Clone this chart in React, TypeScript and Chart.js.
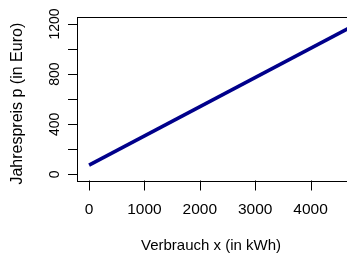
import React, { useEffect, useRef } from "react";
import { Chart, registerables } from "chart.js";

Chart.register(...registerables);

// Data
const consumption = [0, 5000]; // Verbrauch x (kWh)
const price = [74, 1239]; // Jahrespreis p (Euro)

const xTicks = [0, 1000, 2000, 3000, 4000, 5000];
const xTickLabels = ["0", "1000", "2000", "3000", "4000", "5000"];
const yTicks = [0, 200, 400, 600, 800, 1000, 1200];
const yTickLabels = ["0", "", "400", "", "800", "", "1200"];

const xTitle = "Verbrauch x (in kWh)";
const yTitle = "Jahrespreis p (in Euro)";

const FONT = "'Liberation Sans', Arial, Helvetica, sans-serif";
const W = 380;
const H = 253;

const rAxesPlugin = {
  id: "rAxes",
  afterDraw(chart: any) {
    const { ctx, chartArea, scales } = chart;
    const xs = scales.x;
    const ys = scales.y;
    const { left, top, right, bottom } = chartArea;
    ctx.save();
    ctx.strokeStyle = "#000";
    ctx.fillStyle = "#000";
    ctx.lineWidth = 1;
    // box
    ctx.strokeRect(Math.round(left) - 0.5, Math.round(top) - 0.5, Math.round(right - left), Math.round(bottom - top) + 1);
    // y ticks
    ctx.beginPath();
    yTicks.forEach((v) => {
      const py = Math.round(ys.getPixelForValue(v)) + 0.5;
      ctx.moveTo(left - 10, py);
      ctx.lineTo(left, py);
    });
    // x ticks
    xTicks.forEach((v) => {
      const px = Math.round(xs.getPixelForValue(v)) + 0.5;
      ctx.moveTo(px, bottom);
      ctx.lineTo(px, bottom + 10);
    });
    ctx.stroke();
    // x tick labels
    ctx.font = `15.5px ${FONT}`;
    ctx.textAlign = "center";
    ctx.textBaseline = "alphabetic";
    xTicks.forEach((v, i) => {
      const px = xs.getPixelForValue(v);
      ctx.fillText(xTickLabels[i], px, 214);
    });
    // y tick labels (rotated)
    ctx.font = `14px ${FONT}`;
    yTicks.forEach((v, i) => {
      if (!yTickLabels[i]) return;
      const py = ys.getPixelForValue(v);
      ctx.save();
      ctx.translate(59, py);
      ctx.rotate(-Math.PI / 2);
      ctx.fillText(yTickLabels[i], 0, 0);
      ctx.restore();
    });
    // titles
    ctx.font = `15px ${FONT}`;
    ctx.fillText(xTitle, 211, 249.5);
    ctx.save();
    ctx.font = `16px ${FONT}`;
    ctx.translate(21.5, 103.7);
    ctx.rotate(-Math.PI / 2);
    ctx.fillText(yTitle, 0, 0);
    ctx.restore();
    ctx.restore();
  },
};

export default function App() {
  const ref = useRef<HTMLCanvasElement | null>(null);
  useEffect(() => {
    if (!ref.current) return;
    const chart = new Chart(ref.current, {
      type: "line",
      data: {
        datasets: [
          {
            data: consumption.map((x, i) => ({ x, y: price[i] })),
            borderColor: "#00008B",
            borderWidth: 3.6,
            pointRadius: 0,
            fill: false,
            tension: 0,
          },
        ],
      },
      options: {
        animation: false,
        responsive: false,
        devicePixelRatio: 1,
        layout: { padding: { left: 78, top: 18, right: W - 377, bottom: H - 180.5 } },
        plugins: { legend: { display: false }, tooltip: { enabled: false } },
        scales: {
          x: { type: "linear", min: -200, max: 5200, display: false },
          y: { type: "linear", min: -48, max: 1248, display: false },
        },
      },
      plugins: [rAxesPlugin],
    });
    return () => chart.destroy();
  }, []);
  return (
    <div style={{ position: "fixed", left: 0, top: 0, width: 347, height: H, overflow: "hidden", background: "#fff" }}>
      <canvas ref={ref} width={W} height={H} style={{ display: "block" }} />
    </div>
  );
}
